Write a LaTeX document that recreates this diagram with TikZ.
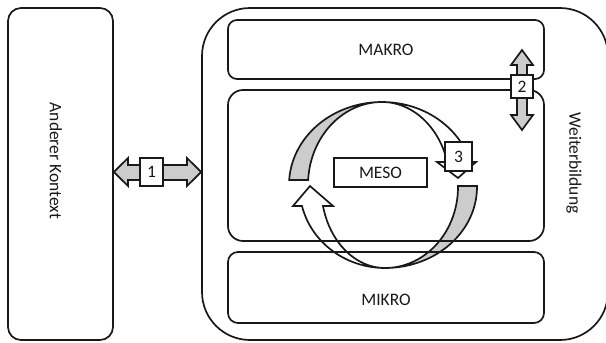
\documentclass[tikz,border=0pt]{standalone}
\usepackage{fontspec}
\setmainfont{Carlito}
\begin{document}
\begin{tikzpicture}[x=1pt,y=-1pt,
  line width=1.7pt,
  every node/.style={font=\fontsize{17.5pt}{21pt}\selectfont, text=black!90},
  frame/.style={draw=black!90, inner sep=0pt},
  numbox/.style={draw=black!90, fill=white, inner sep=0pt},
  blockarrow/.style={draw=black!90, fill=black!20},
  whitearrow/.style={draw=black!90, fill=white}]
\useasboundingbox (0,0) rectangle (606,343);

% cycle arrows (drawn first so box borders lie on top)
\path[blockarrow] plot[domain=176.5:90, samples=40] ({382+93*cos(\x)},{185-83*sin(\x)})
  -- plot[domain=90:176.5, samples=40] ({382+74*cos(\x)},{185-83*sin(\x)}) -- cycle;
\path[whitearrow] plot[domain=90:16.1, samples=40] ({382+92*cos(\x)},{185-83*sin(\x)})
  -- (476,162) -- (458,178) -- (437,162)
  -- plot[domain=16.1:90, samples=40] ({382+68*cos(\x)},{185-83*sin(\x)}) -- cycle;
\path[whitearrow] plot[domain=193.57:270, samples=40] ({385+85.4*cos(\x)},{187-81*sin(\x)})
  -- plot[domain=270:193.57, samples=40] ({385+63.8*cos(\x)},{187-81*sin(\x)})
  -- (333,206) -- (310,186) -- (293,206) -- cycle;
\path[blockarrow] plot[domain=0.7:-90, samples=40] ({385+92*cos(\x)},{187-81*sin(\x)})
  -- plot[domain=-90:0.7, samples=40] ({385+73*cos(\x)},{187-81*sin(\x)}) -- cycle;

% boxes
\node[frame, rounded corners=13pt, minimum width=105pt, minimum height=332pt] (ctx) at (60.5,174) {};
\node[rotate=-90] (ctxlabel) at (56,161) {Anderer Kontext};
\node[frame, rounded corners=48pt, minimum width=406pt, minimum height=332pt] (wb) at (405,174) {};
\node[rotate=-90] (wblabel) at (574,163) {Weiterbildung};
\node[frame, rounded corners=9pt, minimum width=316pt, minimum height=59pt] (makro) at (386,49.5) {MAKRO};
\node[frame, rounded corners=15pt, minimum width=316pt, minimum height=151pt] (meso) at (386,165.5) {};
\node[frame, rounded corners=10pt, minimum width=316pt, minimum height=71pt] (mikro) at (386,287.5) {};
\node (mikrolabel) at (386,300) {MIKRO};
\node[numbox, minimum width=93pt, minimum height=29pt] (mesolabel) at (380.5,172.5) {MESO};

% arrow 1
\path[blockarrow] (ctx.east |- 0,172) -- (128,158) -- (128,165) -- (187,165) -- (187,158)
  -- (wb.west |- 0,172) -- (187,186) -- (187,180) -- (128,180) -- (128,186) -- cycle;
\node[numbox, minimum width=23pt, minimum height=28pt] (n1) at (151.5,172) {1};

% arrow 2
\path[blockarrow] (522,50) -- (533,65) -- (527,65) -- (527,115) -- (533,115) -- (522,130)
  -- (511,115) -- (517,115) -- (517,65) -- (511,65) -- cycle;
\node[numbox, minimum width=22pt, minimum height=23pt] (n2) at (522,86.5) {2};

% box 3
\node[numbox, minimum width=27pt, minimum height=29pt] (n3) at (458.5,156.5) {3};
\end{tikzpicture}
\end{document}
